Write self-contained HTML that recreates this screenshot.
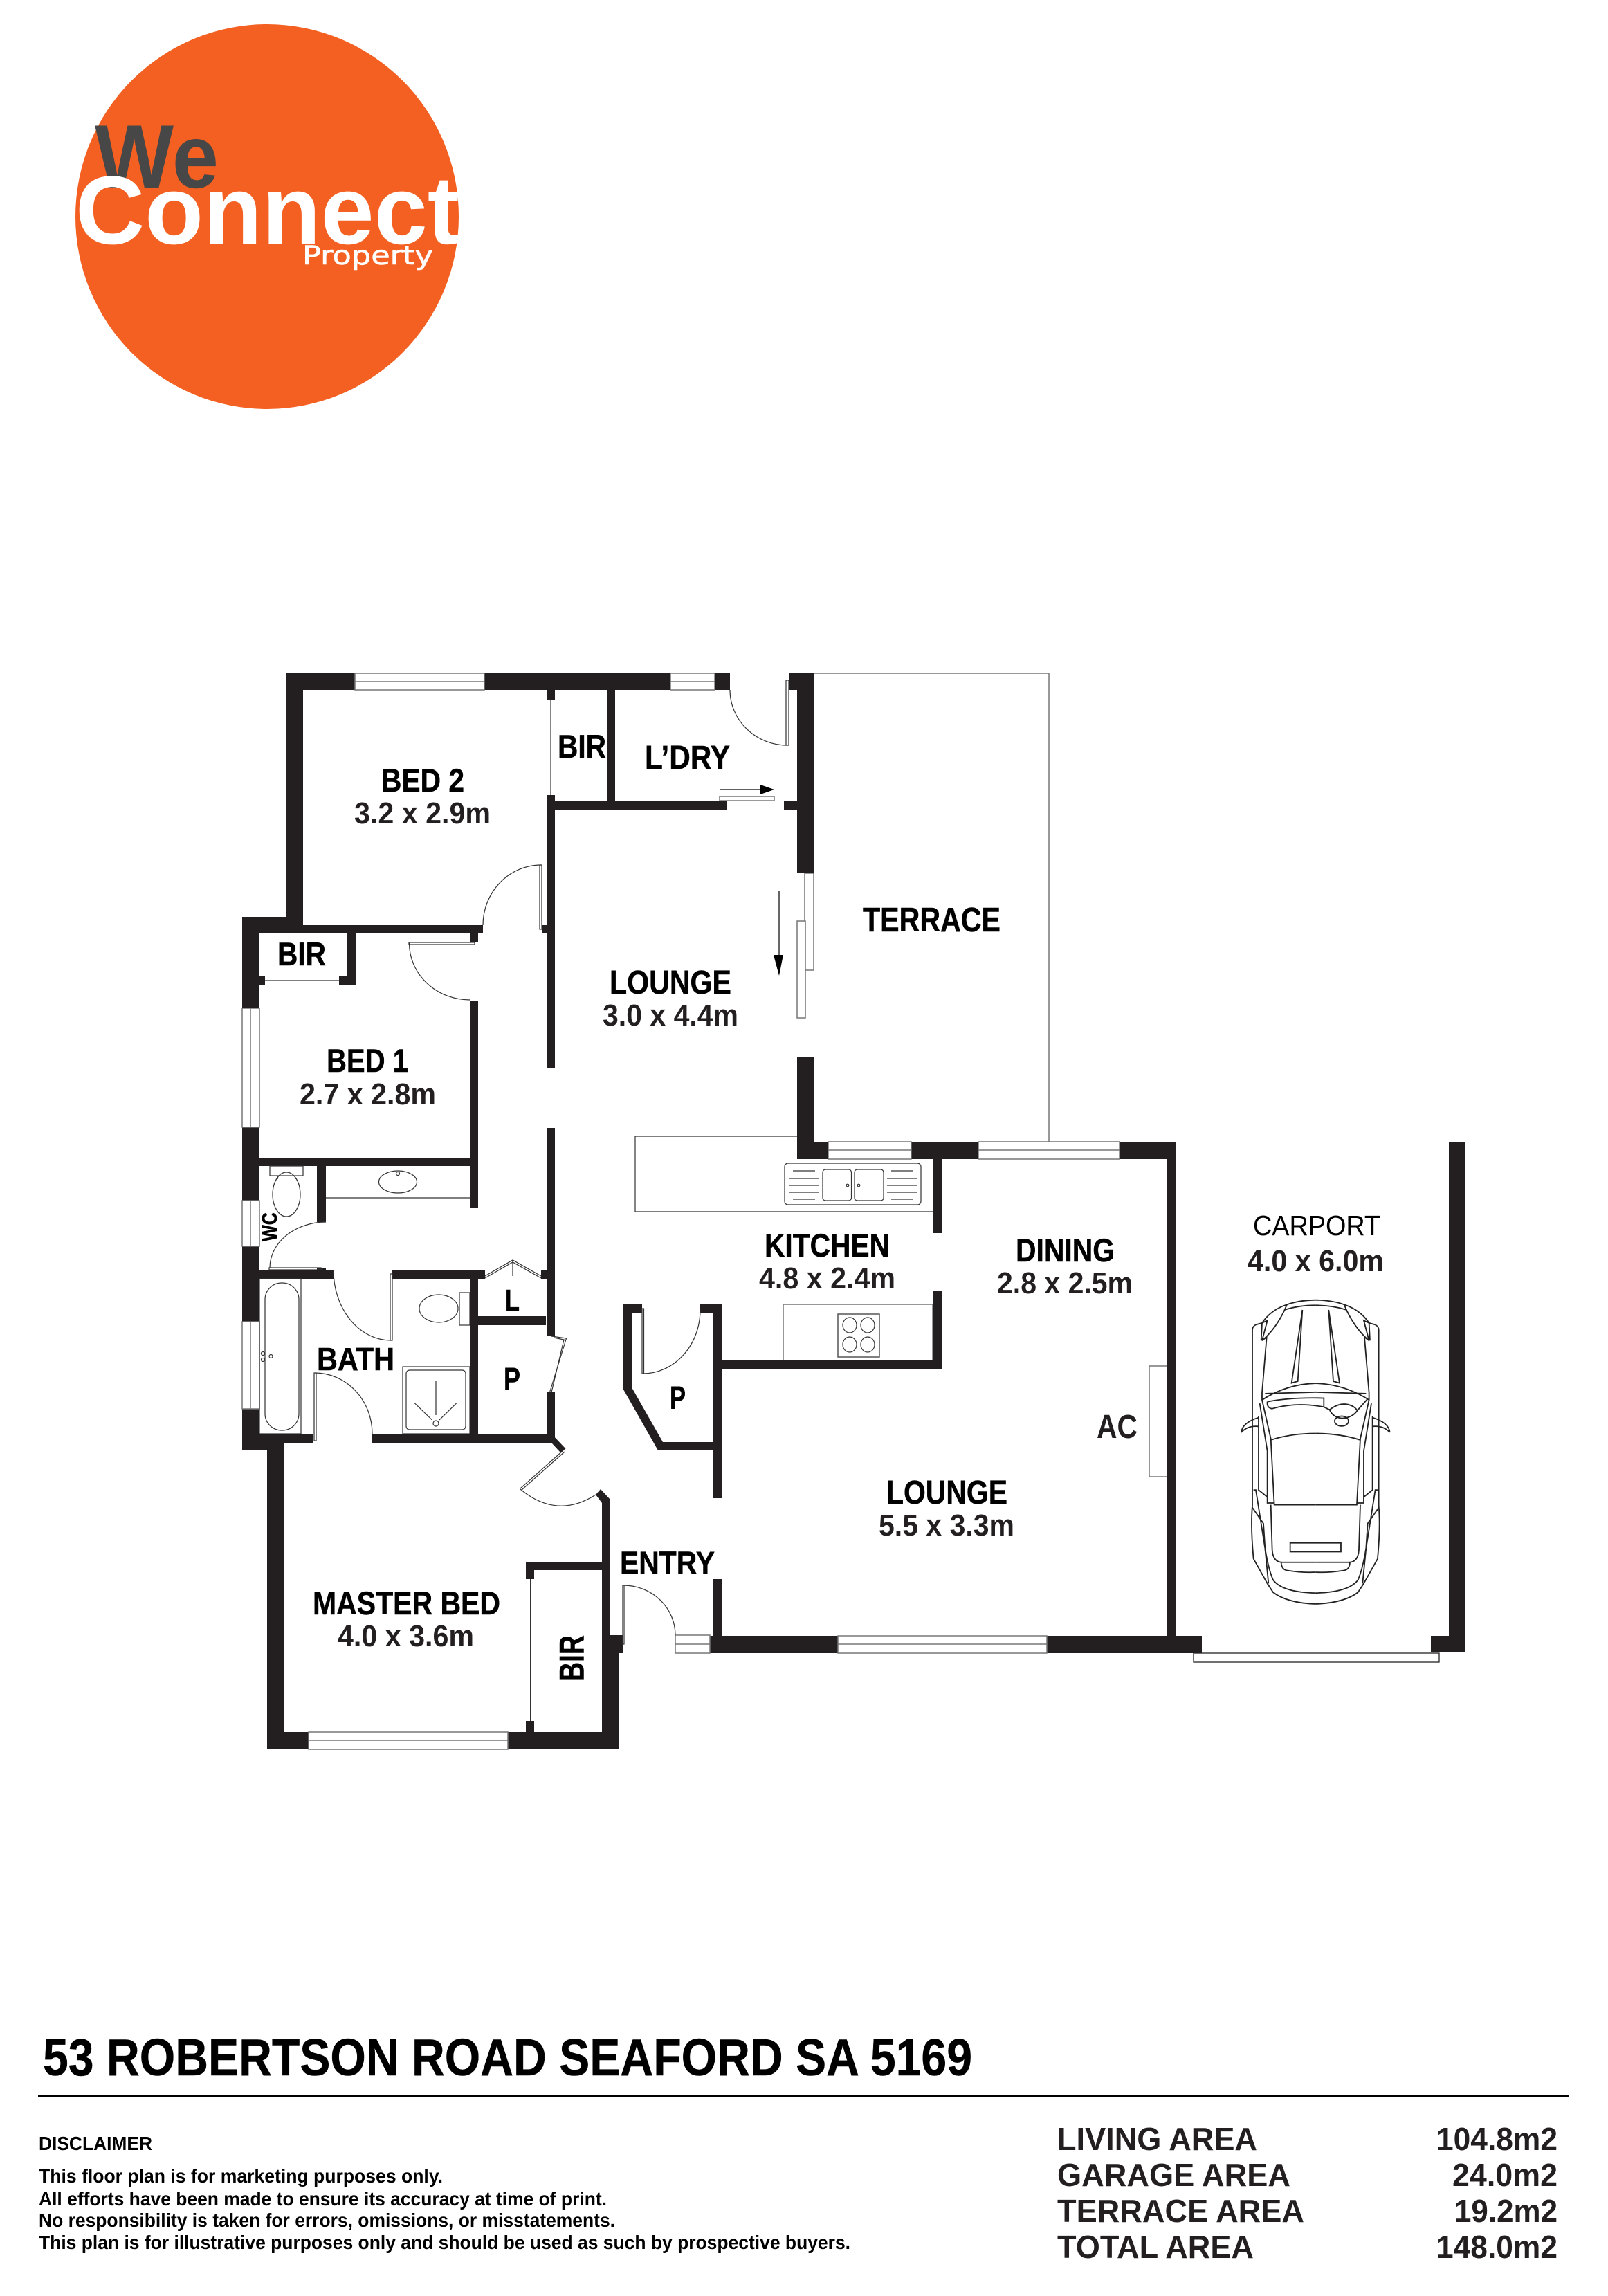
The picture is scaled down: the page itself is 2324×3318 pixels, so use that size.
<!DOCTYPE html>
<html><head><meta charset="utf-8"><title>53 Robertson Road Seaford SA 5169</title>
<style>
html,body{margin:0;padding:0;background:#fff}
svg{display:block}
text{font-family:"Liberation Sans",sans-serif;font-weight:bold;fill:#000}
.d{fill:#231f20}
.w{fill:#231f20;stroke:none}
.t{fill:none;stroke:#333;stroke-width:1.2}
.g{fill:#fff;stroke:#777;stroke-width:1.5}
.c path,.c rect,.c ellipse,#carh path{fill:none;stroke:#222;stroke-width:1.8;vector-effect:non-scaling-stroke}
.l text{stroke:#000;stroke-width:.5}
</style></head><body>
<svg xmlns="http://www.w3.org/2000/svg" width="2324" height="3318" viewBox="0 0 2324 3318">
<rect width="2324" height="3318" fill="#fff"/>
<!-- Logo -->
<ellipse cx="386" cy="313" rx="277" ry="278" fill="#f36021"/>
<text x="137" y="271" font-size="130" textLength="179" lengthAdjust="spacingAndGlyphs" style="fill:#474747">We</text>
<text x="109" y="352" font-size="140" textLength="555" lengthAdjust="spacingAndGlyphs" style="fill:#fff">Connect</text>
<text x="437" y="382" font-size="37" textLength="189" lengthAdjust="spacingAndGlyphs" style="fill:#fff;font-family:'DejaVu Sans',sans-serif;font-weight:normal;stroke:#fff;stroke-width:.6">Property</text>

<!-- Terrace and counters -->
<path d="M1177 973H1516V1650" fill="none" stroke="#777" stroke-width="1.5"/>
<path class="t" d="M1152 1642H918V1751H1348"/>
<rect x="1132" y="1885" width="216" height="81" class="g" style="fill:none"/>
<rect x="1661" y="1974" width="26" height="160" class="g"/>

<!-- Walls -->
<g class="w">
<rect x="413" y="973" width="642" height="24"/>
<rect x="1140" y="973" width="37" height="24"/>
<rect x="413" y="973" width="25" height="376"/>
<rect x="1152" y="973" width="25" height="289"/>
<rect x="1152" y="1528" width="25" height="147"/>
<rect x="1152" y="1650" width="547" height="25"/>
<rect x="1133" y="1157" width="19" height="13"/>
<rect x="790" y="997" width="12" height="15"/>
<rect x="790" y="1149" width="12" height="394"/>
<rect x="802" y="1157" width="248" height="13"/>
<rect x="877" y="997" width="12" height="160"/>
<rect x="350" y="1325" width="88" height="24"/>
<rect x="350" y="1325" width="25" height="771"/>
<rect x="374" y="1337" width="324" height="12"/>
<rect x="502" y="1349" width="13" height="75"/>
<rect x="490" y="1411" width="25" height="13"/>
<rect x="374" y="1411" width="9" height="13"/>
<rect x="679" y="1349" width="12" height="13"/>
<rect x="783" y="1337" width="7" height="11"/>
<rect x="679" y="1446" width="12" height="300"/>
<rect x="374" y="1673" width="317" height="12"/>
<rect x="458" y="1685" width="13" height="81"/>
<rect x="374" y="1836" width="108" height="12"/>
<rect x="458" y="1832" width="13" height="6"/>
<rect x="566" y="1836" width="135" height="12"/>
<rect x="782" y="1836" width="8" height="12"/>
<rect x="679" y="1848" width="12" height="237"/>
<rect x="691" y="1902" width="98" height="13"/>
<rect x="790" y="1630" width="12" height="301"/>
<rect x="790" y="2012" width="12" height="73"/>
<rect x="538" y="2072" width="259" height="13"/>
<rect x="374" y="2072" width="79" height="13"/>
<rect x="350" y="2072" width="36" height="24"/>
<rect x="386" y="2072" width="25" height="456"/>
<rect x="386" y="2503" width="60" height="25"/>
<rect x="734" y="2503" width="161" height="25"/>
<rect x="870" y="2363" width="25" height="165"/>
<rect x="870" y="2363" width="30" height="13"/>
<rect x="895" y="2363" width="5" height="26"/>
<polygon points="861,2160 868,2152 882,2167 882,2363 870,2363 870,2172"/>
<polygon points="797,2072 817.5,2093.5 810,2099 797,2085"/>
<rect x="760" y="2257" width="110" height="12"/>
<rect x="760" y="2257" width="12" height="25"/>
<rect x="760" y="2487" width="12" height="16"/>
<rect x="1026" y="2364" width="185" height="25"/>
<rect x="1513" y="2364" width="224" height="25"/>
<rect x="1031" y="2282" width="13" height="82"/>
<rect x="1031" y="1885" width="13" height="280"/>
<polygon points="901,1885 928,1885 928,1897 913,1897 913,2005 958,2084 1031,2084 1031,2096 951,2096 901,2008"/>
<rect x="1012" y="1885" width="32" height="12"/>
<rect x="1044" y="1966" width="317" height="13"/>
<rect x="1348" y="1675" width="13" height="107"/>
<rect x="1348" y="1866" width="13" height="113"/>
<rect x="1687" y="1650" width="12" height="739"/>
<rect x="2094" y="1651" width="24" height="737"/>
<rect x="2068" y="2364" width="26" height="24"/>
</g>

<!-- Windows -->
<g class="g">
<rect x="513" y="973" width="187" height="24"/><path d="M513 985H700"/>
<rect x="969" y="973" width="64" height="24"/><path d="M969 985H1033"/>
<rect x="350" y="1457" width="25" height="172"/><path d="M362 1457V1629"/>
<rect x="350" y="1735" width="25" height="66"/><path d="M362 1735V1801"/>
<rect x="350" y="1910" width="25" height="126"/><path d="M362 1910V2036"/>
<rect x="1197" y="1650" width="120" height="25"/><path d="M1197 1662H1317"/>
<rect x="1414" y="1650" width="204" height="25"/><path d="M1414 1662H1618"/>
<rect x="446" y="2503" width="288" height="25"/><path d="M446 2515H734"/>
<rect x="976" y="2363" width="50" height="26"/><path d="M976 2376H1026"/>
<rect x="1211" y="2364" width="302" height="25"/><path d="M1211 2376H1513"/>
<rect x="1163" y="1262" width="13" height="140"/>
<rect x="1152" y="1331" width="12" height="140"/>
<rect x="1040" y="1151" width="79" height="6"/>
</g>
<rect x="1725" y="2389" width="355" height="13" fill="#fff" stroke="#222" stroke-width="1.3"/>

<!-- Doors -->
<g class="t">
<path d="M1055 997A83 80 0 0 0 1138 1077"/><rect x="1136" y="983" width="4" height="94"/>
<path d="M698 1337A84 87 0 0 1 782 1250"/><rect x="780" y="1250" width="3" height="93"/>
<path d="M591.5 1363A87.5 82 0 0 0 679 1445"/><rect x="591" y="1362" width="95" height="3"/>
<path d="M471 1766A81 66 0 0 0 390 1832"/><rect x="389" y="1832" width="75" height="3"/>
<path d="M482 1836A83 101 0 0 0 565 1937"/><rect x="564" y="1841" width="3" height="96"/>
<path d="M455 1984A83 88 0 0 1 538 2072"/><rect x="454" y="1984" width="3" height="98"/>
<path d="M901 2291A75 72 0 0 1 976 2363"/><rect x="900" y="2291" width="2" height="85"/>
<path d="M1012 1893A83 92 0 0 1 929 1985"/><rect x="928" y="1891" width="2.5" height="94"/>
<path d="M752 2152Q805 2196 861 2160"/>
<path d="M814 2096L752 2151M816 2098L754 2153"/>
<path d="M701 1844L741 1821L782 1844M701 1847L741 1824L782 1847M741 1821V1844"/>
<path d="M797 1931L818.5 1934L794.5 2012M800 1933L815 1936L797 2012"/>
<path d="M796 1012V1149M766.6 2282V2487M383 1417H490"/>
</g>

<!-- Arrows -->
<path d="M1040 1141H1105" stroke="#000" stroke-width="1.2"/><polygon points="1099,1134 1119,1141 1099,1148" fill="#000"/>
<path d="M1126 1288V1385" stroke="#000" stroke-width="1.2"/><polygon points="1118,1380 1132,1380 1126,1410" fill="#000"/>

<!-- Fixtures -->
<g class="t">
<rect x="390" y="1685" width="48" height="14"/>
<path d="M402 1699L401 1704M426 1699L427 1704"/>
<ellipse cx="414" cy="1726" rx="20" ry="32"/>
<path d="M471 1731H679"/>
<ellipse cx="575" cy="1708" rx="27.5" ry="16"/><circle cx="575" cy="1696" r="2.5"/>
<rect x="375" y="1848" width="60" height="224"/>
<rect x="383" y="1854" width="49" height="213" rx="24" ry="24"/>
<circle cx="380" cy="1956" r="2.5"/><circle cx="380" cy="1965" r="2.5"/><circle cx="391.5" cy="1960" r="2.5"/>
<rect x="664" y="1868" width="15" height="47"/>
<ellipse cx="634" cy="1891" rx="28" ry="20"/>
<rect x="582" y="1975" width="97" height="97"/>
<rect x="587" y="1980" width="86" height="86" rx="5"/>
<circle cx="630" cy="2057" r="4"/>
<path d="M630 1996V2045M599 2027.5L624.5 2052M660 2027.5L635 2052"/>
<rect x="1134" y="1681" width="197" height="60" rx="5"/>
<rect x="1189" y="1690" width="41.5" height="45" rx="4"/>
<rect x="1235" y="1690" width="42" height="45" rx="4"/>
<circle cx="1225" cy="1713" r="1.8"/><circle cx="1241" cy="1713" r="1.8"/>
<path d="M1146 1692H1178M1140 1703H1183M1140 1713H1183M1140 1723H1183M1146 1733H1178"/>
<path d="M1288 1692H1320M1282 1703H1325M1282 1713H1325M1282 1723H1325M1288 1733H1320"/>
<rect x="1211" y="1899" width="60" height="62" style="stroke:#555;stroke-width:1.5"/>
<ellipse cx="1228" cy="1915" rx="10" ry="11"/><ellipse cx="1254" cy="1915" rx="10" ry="11"/>
<ellipse cx="1228" cy="1943" rx="10" ry="11"/><ellipse cx="1254" cy="1943" rx="10" ry="11"/>
</g>

<!-- Car -->
<defs>
<g id="carh">
<path d="M604 507Q530 508 480 520Q410 535 372 572L345 577Q330 582 330 592L330 1090Q322 1150 335 1240L395 1310L420 1335Q480 1365 604 1368"/>
<path d="M604 522Q530 522 470 535Q430 590 372 622L392 612L372 770L372 790L410 900L425 1087L604 1087"/>
<path d="M480 520L470 535M372 572L368 622M372 572L395 565L372 622"/>
<path d="M547 535L500 742L527 737Z"/>
<path d="M372 790Q480 745 604 743M385 772Q490 770 604 768"/>
<path d="M412 903Q500 885 604 885"/>
<path d="M362 800L395 935L395 1065L357 1045L357 835M395 1065V1082H425"/>
<path d="M410 1087L416 1215Q420 1250 460 1250L604 1250"/>
<path d="M455 1250Q456 1270 480 1273Q550 1280 604 1278"/>
<path d="M420 1300Q460 1335 604 1337"/>
<path d="M282 882Q285 855 357 840M282 882Q310 862 357 865"/>
<path d="M335 1045L345 1045L385 1210L400 1310M330 1095L378 1140L385 1210"/>
<path d="M385 1210Q400 1270 420 1300"/>
</g>
</defs>
<g class="c" transform="translate(1700,1620) scale(.3333,.5102)" fill="none">
<use href="#carh"/>
<use href="#carh" transform="translate(1208,0) scale(-1,1)"/>
<rect x="494" y="1195" width="220" height="25"/>
<path d="M395 795Q500 782 640 785L640 810L665 818Q700 800 735 802Q770 805 785 820L830 787M395 795Q392 812 415 815Q520 795 640 810"/>
<path d="M665 818Q680 840 720 842Q765 840 785 820"/>
<ellipse cx="717" cy="850" rx="30" ry="14"/>
</g>

<!-- Labels -->
<g class="l">
<text x="551" y="1144" font-size="47" textLength="120" lengthAdjust="spacingAndGlyphs">BED 2</text>
<text x="806" y="1095" font-size="47" textLength="70" lengthAdjust="spacingAndGlyphs">BIR</text>
<text x="932" y="1111" font-size="48" textLength="123" lengthAdjust="spacingAndGlyphs">L’DRY</text>
<text x="881" y="1436" font-size="48" textLength="176" lengthAdjust="spacingAndGlyphs">LOUNGE</text>
<text x="401" y="1395" font-size="47" textLength="70" lengthAdjust="spacingAndGlyphs">BIR</text>
<text x="472" y="1549" font-size="47" textLength="118" lengthAdjust="spacingAndGlyphs">BED 1</text>
<text x="1247" y="1346" font-size="49" textLength="199" lengthAdjust="spacingAndGlyphs">TERRACE</text>
<text x="1105" y="1816" font-size="47" textLength="181" lengthAdjust="spacingAndGlyphs">KITCHEN</text>
<text x="1468" y="1823" font-size="47" textLength="143" lengthAdjust="spacingAndGlyphs">DINING</text>
<text x="1281" y="2173" font-size="48" textLength="175" lengthAdjust="spacingAndGlyphs">LOUNGE</text>
<text x="458" y="1980" font-size="46" textLength="112" lengthAdjust="spacingAndGlyphs">BATH</text>
<text x="730" y="1894" font-size="44" textLength="21" lengthAdjust="spacingAndGlyphs">L</text>
<text x="728" y="2009" font-size="46" textLength="24" lengthAdjust="spacingAndGlyphs">P</text>
<text x="968" y="2036" font-size="46" textLength="23" lengthAdjust="spacingAndGlyphs">P</text>
<text x="452" y="2333" font-size="47" textLength="271" lengthAdjust="spacingAndGlyphs">MASTER BED</text>
<text x="896" y="2274" font-size="45" textLength="137" lengthAdjust="spacingAndGlyphs">ENTRY</text>
<text transform="translate(843.5,2430) rotate(-90)" font-size="50" textLength="67" lengthAdjust="spacingAndGlyphs">BIR</text>
<text transform="translate(400,1794) rotate(-90)" font-size="31" textLength="42" lengthAdjust="spacingAndGlyphs">WC</text>
<text x="62" y="2999" font-size="75" textLength="1343" lengthAdjust="spacingAndGlyphs">53 ROBERTSON ROAD SEAFORD SA 5169</text>
</g>
<text class="d" x="512" y="1190" font-size="44" textLength="197" lengthAdjust="spacingAndGlyphs">3.2 x 2.9m</text>
<text class="d" x="871" y="1482" font-size="44" textLength="196" lengthAdjust="spacingAndGlyphs">3.0 x 4.4m</text>
<text class="d" x="433" y="1596" font-size="44" textLength="197" lengthAdjust="spacingAndGlyphs">2.7 x 2.8m</text>
<text class="d" x="1097" y="1862" font-size="44" textLength="197" lengthAdjust="spacingAndGlyphs">4.8 x 2.4m</text>
<text class="d" x="1441" y="1869" font-size="44" textLength="196" lengthAdjust="spacingAndGlyphs">2.8 x 2.5m</text>
<text class="d" x="1585" y="2078" font-size="48" textLength="59" lengthAdjust="spacingAndGlyphs">AC</text>
<text class="d" x="1270" y="2219" font-size="44" textLength="196" lengthAdjust="spacingAndGlyphs">5.5 x 3.3m</text>
<text class="d" x="488" y="2379" font-size="44" textLength="197" lengthAdjust="spacingAndGlyphs">4.0 x 3.6m</text>
<text x="1811" y="1785" font-size="41" textLength="184" lengthAdjust="spacingAndGlyphs" style="font-weight:normal">CARPORT</text>
<text class="d" x="1803" y="1837" font-size="44" textLength="197" lengthAdjust="spacingAndGlyphs">4.0 x 6.0m</text>

<!-- Footer -->
<rect x="55" y="3028" width="2212" height="3" fill="#000"/>
<text x="56" y="3107" font-size="28" textLength="164" lengthAdjust="spacingAndGlyphs">DISCLAIMER</text>
<text x="56" y="3154" font-size="28" textLength="584" lengthAdjust="spacingAndGlyphs">This floor plan is for marketing purposes only.</text>
<text x="56" y="3187" font-size="28" textLength="821" lengthAdjust="spacingAndGlyphs">All efforts have been made to ensure its accuracy at time of print.</text>
<text x="56" y="3218" font-size="28" textLength="833" lengthAdjust="spacingAndGlyphs">No responsibility is taken for errors, omissions, or misstatements.</text>
<text x="56" y="3250" font-size="28" textLength="1173" lengthAdjust="spacingAndGlyphs">This plan is for illustrative purposes only and should be used as such by prospective buyers.</text>
<text class="d" x="1528" y="3107" font-size="46" textLength="289" lengthAdjust="spacingAndGlyphs">LIVING AREA</text>
<text class="d" x="1528" y="3159" font-size="46" textLength="337" lengthAdjust="spacingAndGlyphs">GARAGE AREA</text>
<text class="d" x="1528" y="3211" font-size="46" textLength="357" lengthAdjust="spacingAndGlyphs">TERRACE AREA</text>
<text class="d" x="1528" y="3263" font-size="46" textLength="284" lengthAdjust="spacingAndGlyphs">TOTAL AREA</text>
<text class="d" x="2076" y="3107" font-size="46" textLength="175" lengthAdjust="spacingAndGlyphs">104.8m2</text>
<text class="d" x="2099" y="3159" font-size="46" textLength="152" lengthAdjust="spacingAndGlyphs">24.0m2</text>
<text class="d" x="2102" y="3211" font-size="46" textLength="149" lengthAdjust="spacingAndGlyphs">19.2m2</text>
<text class="d" x="2076" y="3263" font-size="46" textLength="175" lengthAdjust="spacingAndGlyphs">148.0m2</text>
</svg>
</body></html>
